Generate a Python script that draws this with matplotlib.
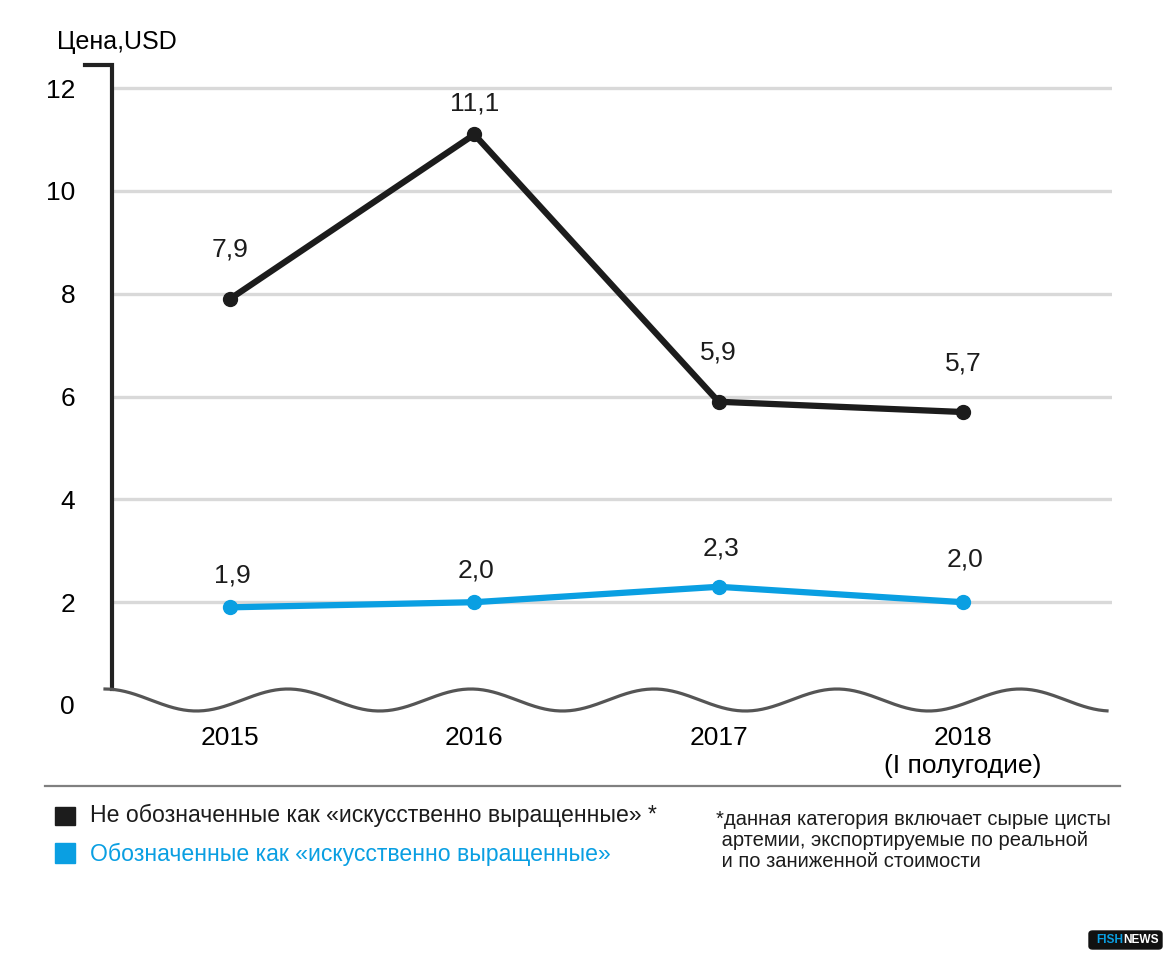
import numpy as np
import matplotlib.pyplot as plt
from matplotlib.lines import Line2D
from matplotlib.patches import Rectangle, FancyBboxPatch

plt.rcParams['font.family'] = ['Liberation Sans', 'DejaVu Sans']

years = ["2015", "2016", "2017", "2018\n(I полугодие)"]
not_marked = [7.9, 11.1, 5.9, 5.7]
marked = [1.9, 2.0, 2.3, 2.0]
not_marked_txt = ["7,9", "11,1", "5,9", "5,7"]
marked_txt = ["1,9", "2,0", "2,3", "2,0"]
yticks = [0, 2, 4, 6, 8, 10, 12]

legend_black = "Не обозначенные как «искусственно выращенные» *"
legend_blue = "Обозначенные как «искусственно выращенные»"
note = "*данная категория включает сырые цисты\n артемии, экспортируемые по реальной\n и по заниженной стоимости"

BLACK = "#1c1c1c"
BLUE = "#0a9fe2"
W, H = 1172, 960

def fx(px):
    return px / W

def fy(py):
    return 1 - py / H

fig = plt.figure(figsize=(W / 100, H / 100), dpi=100)
# axes spans pixels x 100..1112, y 60..723
ax = fig.add_axes([fx(100), fy(723), fx(1112) - fx(100), fy(60) - fy(723)])
sx, x0 = 244.3, 230   # px per category, px of first category
sy, y0 = 51.4, 705    # px per unit, px of zero
ax.set_xlim((100 - x0) / sx, (1112 - x0) / sx)
ax.set_ylim((y0 - 723) / sy, (y0 - 60) / sy)
for s in ax.spines.values():
    s.set_visible(False)

xs = np.arange(len(years))
x_axis = (112 - x0) / sx
x_right = (1112 - x0) / sx

# grid
ax.hlines(yticks[1:], x_axis, x_right, color="#d9d9d9", lw=2.4, zorder=1)

# y axis with top stub
ytop = (y0 - 65) / sy
ybot = (y0 - 689) / sy
ax.plot([(85 - x0) / sx, x_axis, x_axis], [ytop, ytop, ybot], color="#222222",
        lw=3, solid_joinstyle="miter", clip_on=False, zorder=3)

# wavy baseline (axis break decoration)
wx = np.linspace((105 - x0) / sx, (1107 - x0) / sx, 600)
period = 183 / sx
wy = (y0 - 700) / sy + (11 / sy) * np.cos(2 * np.pi * (wx - wx[0]) / period)
ax.plot(wx, wy, color="#555555", lw=2.3, clip_on=False, zorder=3)

ax.set_yticks(yticks)
ax.set_yticklabels([str(v) for v in yticks])
ax.set_xticks(xs)
ax.set_xticklabels(years, linespacing=1.2)
ax.tick_params(axis="y", length=0, pad=18, labelsize=19)
ax.tick_params(axis="x", length=0, pad=2, labelsize=19)

ax.plot(xs, not_marked, color=BLACK, lw=4.5, marker="o", ms=10, zorder=5)
ax.plot(xs, marked, color=BLUE, lw=4.5, marker="o", ms=10, zorder=5)

black_dy = [49, 31, 49, 49]
blue_dy = [32, 32, 38, 43]
for x, v, t, d in zip(xs, not_marked, not_marked_txt, black_dy):
    ax.annotate(t, (x, v), xytext=(0, d), textcoords="offset pixels",
                ha="center", va="center", fontsize=19, color=BLACK)
for x, v, t, d in zip(xs, marked, marked_txt, blue_dy):
    ax.annotate(t, (x, v), xytext=(2, d), textcoords="offset pixels",
                ha="center", va="center", fontsize=19, color=BLACK)

fig.text(fx(57), fy(42), "Цена,USD", fontsize=18, ha="left", va="center")

# separator
fig.add_artist(Line2D([fx(45), fx(1120)], [fy(786), fy(786)], color="#808080", lw=1.6))

# legend
fig.add_artist(Rectangle((fx(55), fy(825)), fx(20), fy(807) - fy(825), color=BLACK))
fig.add_artist(Rectangle((fx(55), fy(863)), fx(20), fy(843) - fy(863), color=BLUE))
fig.text(fx(90), fy(815), legend_black, fontsize=16.6,
         color=BLACK, va="center", ha="left")
fig.text(fx(90), fy(854), legend_blue, fontsize=16.6,
         color=BLUE, va="center", ha="left")

fig.text(fx(716), fy(810), note, fontsize=14.5, va="top", ha="left",
         linespacing=1.13, color=BLACK)

# logo
fig.add_artist(FancyBboxPatch((fx(1089), fy(949)), fx(73), fy(931) - fy(949),
                              boxstyle="round,pad=0,rounding_size=0.003",
                              color="#111111"))
fig.text(fx(1123), fy(940), "FISH", fontsize=8.6, weight="bold", color=BLUE,
         ha="right", va="center")
fig.text(fx(1123), fy(940), "NEWS", fontsize=8.6, weight="bold", color="white",
         ha="left", va="center")

fig.savefig("out.png", dpi=100, facecolor="white")
